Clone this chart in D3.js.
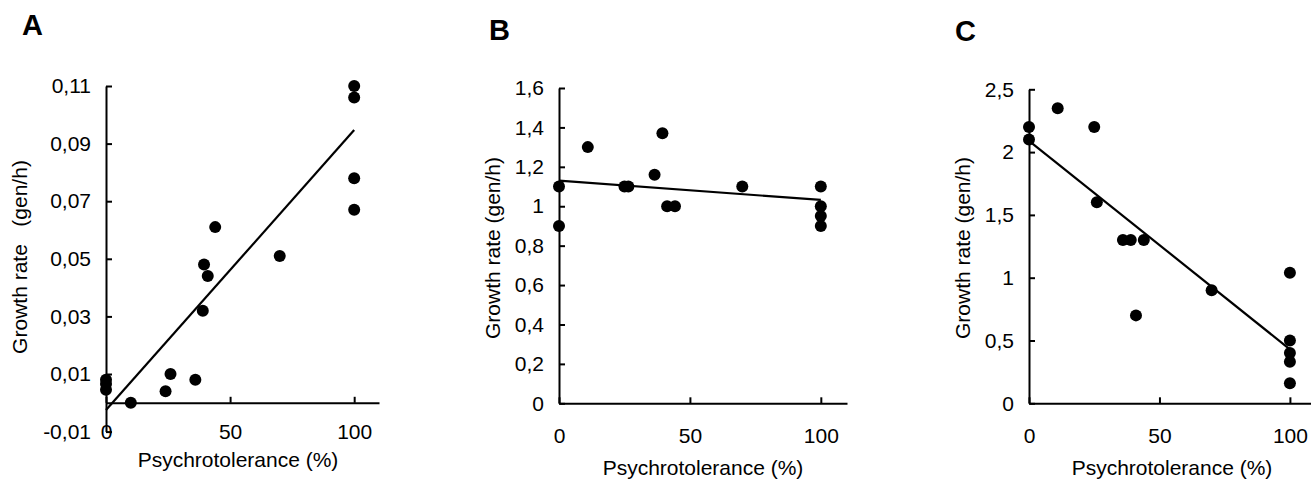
<!DOCTYPE html>
<html>
<head>
<meta charset="utf-8">
<script src="https://cdn.jsdelivr.net/npm/d3@7"></script>
<style>
  body { margin: 0; background: #fff; }
  svg text { font-family: "Liberation Sans", Arial, sans-serif; fill: #000; }
  .axis path, .axis line { stroke: #000; stroke-width: 2; }
  .axis text { font-size: 21px; }
  .title { font-size: 21px; white-space: pre; }
  .letter { font-size: 29px; font-weight: bold; }
</style>
</head>
<body>
<div id="chart"></div>
<script>
var svgWidth = 1311;
var svgHeight = 481;

// shared x ticks (psychrotolerance, %)
var xTicks = [0, 50, 100];

// Panel A
var psychA = [0, 0, 0, 10, 24, 26, 36, 39, 39.5, 41, 44, 70, 100, 100, 100, 100];
var rateA = [0.008, 0.0065, 0.0045, 0, 0.004, 0.010, 0.008, 0.032, 0.048, 0.044, 0.061, 0.051, 0.110, 0.106, 0.078, 0.067];
var fitA = [[0, -0.0025], [100, 0.0947]];
var yTicksA = [-0.01, 0.01, 0.03, 0.05, 0.07, 0.09, 0.11];

// Panel B
var psychB = [0, 0, 11, 25, 26.5, 36.5, 39.5, 41.3, 44.3, 70, 100, 100, 100, 100];
var rateB = [1.1, 0.9, 1.3, 1.1, 1.1, 1.16, 1.37, 1.0, 1.0, 1.1, 1.1, 1.0, 0.95, 0.9];
var fitB = [[0, 1.13], [100, 1.032]];
var yTicksB = [0, 0.2, 0.4, 0.6, 0.8, 1, 1.2, 1.4, 1.6];

// Panel C
var psychC = [0, 0, 11, 25, 26, 36, 39, 44, 41, 70, 100, 100, 100, 100, 100];
var rateC = [2.2, 2.1, 2.35, 2.2, 1.6, 1.3, 1.3, 1.3, 0.7, 0.9, 1.04, 0.5, 0.4, 0.33, 0.16];
var fitC = [[0, 2.09], [100, 0.43]];
var yTicksC = [0, 0.5, 1, 1.5, 2, 2.5];

var svg = d3.select("#chart")
  .append("svg")
  .attr("width", svgWidth)
  .attr("height", svgHeight);

// decimal comma like the original
function fmt(d) {
  return String(+d.toFixed(2)).replace(".", ",");
}

function drawPanel(p) {
  var x = d3.scaleLinear().domain([0, 110]).range([p.left, p.left + p.width]);
  var y = d3.scaleLinear().domain(p.yDomain).range([p.top + p.height, p.top]);

  var g = svg.append("g");

  // y axis, ticks pointing inward
  g.append("g")
    .attr("class", "axis")
    .attr("transform", `translate(${x(0)}, 0)`)
    .call(d3.axisLeft(y).tickValues(p.yTicks).tickSizeInner(-6).tickSizeOuter(0)
      .tickPadding(15).tickFormat(fmt));

  // x axis sits on y = 0
  var xAxis = g.append("g")
    .attr("class", "axis")
    .attr("transform", `translate(0, ${y(0)})`)
    .call(d3.axisBottom(x).tickValues(xTicks).tickSizeInner(-6).tickSizeOuter(0)
      .tickPadding(0).tickFormat(d3.format("d")));
  xAxis.selectAll("text").attr("dy", null).attr("y", p.xLabelY);

  // regression line
  g.append("path")
    .datum(p.fit)
    .attr("d", d3.line().x(d => x(d[0])).y(d => y(d[1])))
    .attr("fill", "none")
    .attr("stroke", "#000")
    .attr("stroke-width", 2.2);

  // points
  g.selectAll("circle")
    .data(p.xs.map((v, i) => [v, p.ys[i]]))
    .enter()
    .append("circle")
    .attr("cx", d => x(d[0]))
    .attr("cy", d => y(d[1]))
    .attr("r", 6)
    .attr("fill", "#000");

  // axis titles
  g.append("text")
    .attr("class", "title")
    .attr("x", p.xTitle[0])
    .attr("y", p.xTitle[1])
    .attr("text-anchor", "middle")
    .text("Psychrotolerance (%)");

  g.append("text")
    .attr("class", "title")
    .attr("transform", `translate(${p.yTitle[0]}, ${p.yTitle[1]}) rotate(-90)`)
    .attr("dy", "0.35em")
    .attr("text-anchor", "middle")
    .text(p.yLabel);

  // panel letter
  g.append("text")
    .attr("class", "letter")
    .attr("x", p.letterPos[0])
    .attr("y", p.letterPos[1])
    .text(p.letter);
}

drawPanel({
  letter: "A", letterPos: [22, 35],
  left: 106, top: 86, width: 273, height: 345.6,
  yDomain: [-0.01, 0.11], yTicks: yTicksA,
  xs: psychA, ys: rateA, fit: fitA,
  xLabelY: 36, xTitle: [238, 467],
  yLabel: "Growth rate   (gen/h)", yTitle: [20, 257]
});

drawPanel({
  letter: "B", letterPos: [489, 40],
  left: 559, top: 88, width: 288, height: 315.3,
  yDomain: [0, 1.6], yTicks: yTicksB,
  xs: psychB, ys: rateB, fit: fitB,
  xLabelY: 40, xTitle: [703, 475],
  yLabel: "Growth rate (gen/h)", yTitle: [493, 248]
});

drawPanel({
  letter: "C", letterPos: [955, 41],
  left: 1029, top: 89.3, width: 287, height: 314,
  yDomain: [0, 2.5], yTicks: yTicksC,
  xs: psychC, ys: rateC, fit: fitC,
  xLabelY: 40, xTitle: [1172, 475],
  yLabel: "Growth rate (gen/h)", yTitle: [963, 248]
});
</script>
</body>
</html>
